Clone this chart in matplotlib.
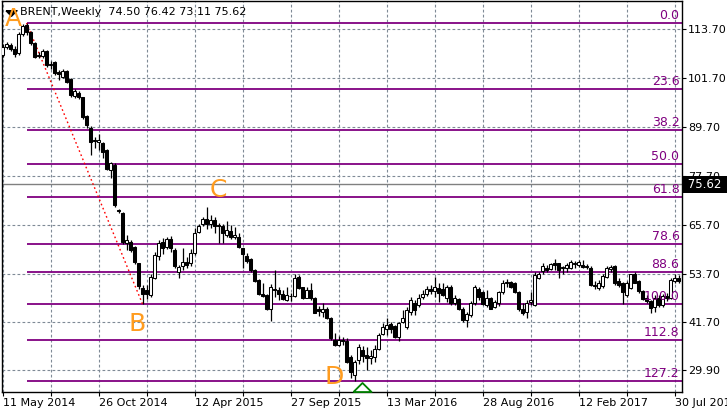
import pandas as pd
import matplotlib
matplotlib.use("Agg")
import matplotlib.pyplot as plt
from matplotlib.transforms import blended_transform_factory

# weekly BRENT candles, first bar = week of 11 May 2014
opens = [107.4, 109.4, 109.8, 109.0, 107.8, 112.5, 114.8, 113.0, 110.4, 107.4,
         107.2, 108.4, 105.0, 105.6, 103.2, 102.1, 103.5, 101.6, 97.3, 98.2,
         97.0, 92.4, 89.4, 86.5, 86.0, 85.7, 84.0, 79.1, 80.4, 69.3,
         68.5, 61.2, 61.5, 60.3, 56.2, 50.1, 49.6, 48.4, 52.5, 58.0,
         61.5, 60.3, 62.3, 59.5, 54.2, 55.5, 56.5, 56.2, 58.7, 64.0,
         65.9, 67.0, 65.8, 66.8, 65.6, 65.4, 63.3, 64.2, 62.6, 62.6,
         59.9, 58.0, 57.2, 54.6, 52.1, 48.7, 48.4, 45.1, 49.9, 49.6,
         48.8, 47.2, 48.3, 48.2, 52.9, 50.3, 47.8, 49.6, 47.8, 44.9,
         44.3, 45.1, 42.9, 37.5, 36.1, 37.5, 37.2, 33.3, 28.9, 32.4,
         35.0, 33.7, 32.9, 33.1, 35.1, 38.8, 40.0, 41.2, 40.8, 38.1,
         41.9, 40.5, 44.3, 46.4, 45.9, 47.9, 48.8, 49.8, 49.5, 50.1,
         49.8, 47.6, 50.5, 46.4, 47.4, 45.1, 42.3, 43.5, 46.4, 50.0,
         49.2, 46.0, 47.6, 45.6, 46.4, 49.1, 51.4, 51.7, 51.3, 49.2,
         45.1, 44.3, 46.6, 46.0, 52.5, 54.3, 55.1, 54.8, 56.2, 56.2,
         55.0, 55.0, 55.1, 56.2, 55.8, 55.8, 55.6, 55.1, 51.0, 50.2,
         50.7, 52.9, 54.8, 55.6, 51.8, 51.3, 48.4, 50.2, 53.5, 51.8,
         49.4, 47.6, 46.9, 45.5, 47.6, 46.0, 48.2, 47.8, 52.0, 52.5]
highs = [110.2, 110.6, 110.4, 109.6, 113.0, 115.0, 115.3, 113.3, 110.6, 108.2,
         108.8, 108.6, 106.0, 106.0, 103.8, 103.9, 103.8, 101.8, 99.0, 98.6,
         97.2, 92.6, 90.0, 87.3, 88.1, 86.1, 84.4, 81.2, 80.8, 69.6,
         68.8, 63.2, 62.0, 60.6, 56.4, 51.0, 51.0, 53.7, 59.0, 61.9,
         62.5, 62.8, 63.0, 60.0, 55.8, 59.9, 57.8, 59.8, 65.0, 66.0,
         67.5, 70.0, 68.1, 67.5, 66.2, 66.0, 66.7, 65.6, 65.2, 63.7,
         60.1, 58.7, 57.5, 54.8, 52.4, 51.4, 48.7, 51.1, 54.6, 50.3,
         49.6, 50.5, 49.0, 53.7, 53.3, 50.5, 50.3, 51.3, 48.0, 45.7,
         46.4, 45.5, 43.1, 39.2, 38.3, 38.0, 37.9, 33.8, 32.5, 36.4,
         35.9, 35.7, 35.0, 36.2, 39.0, 41.5, 42.7, 41.9, 41.0, 41.9,
         44.7, 45.5, 48.0, 47.2, 48.8, 49.6, 50.6, 50.9, 52.9, 51.3,
         51.4, 50.8, 50.9, 48.5, 47.8, 45.5, 44.3, 47.0, 50.9, 50.5,
         49.5, 49.6, 48.0, 47.2, 49.5, 52.1, 52.3, 52.0, 51.6, 49.5,
         46.4, 47.2, 49.2, 54.2, 54.2, 56.2, 55.8, 56.2, 57.4, 56.4,
         55.6, 56.2, 57.0, 56.8, 57.0, 57.0, 56.1, 55.6, 51.8, 52.1,
         53.7, 55.6, 55.8, 55.9, 52.5, 51.7, 51.8, 53.7, 54.2, 52.1,
         49.6, 48.4, 47.2, 48.4, 48.4, 48.6, 49.0, 52.6, 53.6, 53.4]
lows = [107.0, 109.0, 108.4, 107.0, 107.5, 112.2, 112.4, 110.0, 106.6, 106.6,
        106.8, 104.5, 104.0, 102.6, 101.3, 101.8, 100.5, 97.0, 96.8, 96.6,
        91.8, 89.4, 82.8, 84.5, 84.0, 82.0, 79.1, 77.1, 70.0, 68.6,
        61.0, 59.5, 59.0, 56.0, 50.0, 46.2, 47.5, 47.9, 52.3, 57.0,
        58.5, 59.8, 59.0, 55.0, 52.5, 54.5, 55.0, 55.5, 58.2, 63.6,
        65.5, 64.6, 65.0, 63.7, 61.3, 61.3, 62.8, 62.3, 62.1, 60.1,
        55.0, 56.2, 54.2, 51.6, 48.5, 48.0, 44.8, 42.1, 48.0, 47.2,
        47.2, 47.0, 47.0, 47.9, 49.8, 47.4, 47.6, 47.2, 44.0, 43.2,
        43.1, 42.5, 37.5, 35.9, 35.8, 36.2, 31.8, 28.1, 27.4, 31.6,
        32.0, 30.0, 31.5, 32.0, 34.8, 38.6, 38.6, 39.0, 37.8, 37.2,
        41.5, 40.2, 43.5, 43.5, 45.5, 47.4, 48.2, 48.8, 48.0, 46.8,
        48.2, 46.6, 46.0, 46.0, 44.7, 41.8, 40.6, 43.0, 46.0, 47.2,
        45.9, 45.6, 44.9, 45.2, 45.8, 48.6, 50.5, 50.2, 49.0, 44.5,
        43.5, 42.7, 46.0, 45.8, 52.3, 53.5, 54.1, 54.6, 54.6, 52.5,
        53.5, 54.2, 54.8, 55.1, 55.4, 55.0, 54.8, 50.6, 50.0, 49.6,
        50.2, 52.7, 54.2, 50.9, 50.5, 46.2, 48.0, 50.0, 51.3, 49.0,
        47.2, 46.4, 43.9, 44.3, 45.5, 45.6, 47.0, 47.5, 51.3, 51.4]
closes = [109.4, 110.1, 108.8, 107.6, 112.5, 114.6, 113.0, 110.3, 107.0, 107.2,
          108.4, 104.9, 105.2, 103.0, 102.8, 103.5, 100.8, 97.5, 98.6, 97.0,
          92.2, 90.2, 86.1, 86.3, 86.5, 83.6, 79.5, 80.8, 70.5, 69.0,
          61.5, 61.9, 59.5, 56.6, 50.6, 48.8, 48.8, 52.9, 58.2, 61.1,
          60.0, 62.1, 59.9, 55.5, 55.4, 56.5, 55.8, 58.7, 63.7, 65.4,
          67.0, 65.9, 66.9, 65.4, 65.5, 63.6, 64.4, 62.8, 63.2, 60.3,
          58.5, 56.9, 54.6, 51.9, 48.8, 48.2, 45.1, 50.3, 49.7, 48.7,
          47.4, 48.4, 48.1, 52.5, 50.1, 47.6, 49.6, 47.6, 44.1, 44.6,
          45.1, 42.9, 37.8, 36.1, 37.5, 37.2, 32.0, 29.6, 32.0, 35.7,
          33.4, 32.9, 33.4, 35.1, 38.7, 40.5, 41.0, 40.2, 38.0, 41.5,
          42.7, 44.7, 47.2, 44.7, 47.8, 48.8, 49.8, 49.5, 50.3, 49.0,
          48.4, 50.3, 46.4, 47.6, 45.0, 42.3, 43.8, 46.4, 50.5, 48.0,
          46.2, 47.6, 45.1, 46.8, 49.2, 51.3, 51.7, 50.5, 49.2, 45.1,
          43.9, 46.4, 47.2, 53.3, 53.5, 55.6, 54.6, 56.0, 55.8, 54.6,
          55.3, 55.7, 56.6, 56.0, 56.6, 55.4, 55.2, 50.9, 50.7, 51.5,
          53.2, 55.0, 55.4, 51.3, 51.0, 49.2, 51.3, 53.5, 51.5, 49.4,
          47.4, 46.9, 45.3, 47.6, 46.1, 48.2, 47.6, 52.2, 52.5, 52.0]

first_week = "2014-05-11"
price_ticks = [113.70, 101.70, 89.70, 77.70, 65.70, 53.70, 41.70, 29.90]
fib_levels = [0.0, 23.6, 38.2, 50.0, 61.8, 78.6, 88.6, 100.0, 112.8, 127.2]
bar_a, bar_b = 6, 35          # swing high A and swing low B
last_price = 75.62
header = "BRENT,Weekly  74.50 76.42 73.11 75.62"

weeks = pd.date_range(first_week, periods=len(closes), freq="W-SUN")
df = pd.DataFrame({"open": opens, "high": highs, "low": lows, "close": closes}, index=weeks)
idx = range(len(df))

W, H = 727, 411
fig = plt.figure(figsize=(W / 100, H / 100), dpi=100)
ax = fig.add_axes([1.7 / W, 19 / H, 680 / W, 391 / H])
ax.set_xlim(-0.22, len(df) - 0.22)
ax.set_ylim(24.6, 120.7)

grid_color = "#7f8a96"
dash = (0, (2.5, 2))
purple = "#800080"
orange = "#FF9C1F"

# grid
for i in range(0, len(df), 12):
    ax.axvline(i, color=grid_color, lw=0.8, ls=dash, zorder=0)
for p in price_ticks:
    ax.axhline(p, color=grid_color, lw=0.8, ls=dash, zorder=0)

# fibonacci from A to B
a_price = df["high"].iloc[bar_a]
b_price = df["low"].iloc[bar_b]
for lvl in fib_levels:
    y = a_price - (a_price - b_price) * lvl / 100
    ax.hlines(y, bar_a, len(df), color=purple, lw=1.3, zorder=1)
    ax.text(len(df) - 0.8, y + 0.25, f"{lvl:.1f}", color=purple, fontsize=9,
            ha="right", va="bottom", zorder=4)
ax.plot([bar_a, bar_b], [a_price, b_price], color="red", lw=1, ls=(0, (1.2, 2)), zorder=2)

# current price line
ax.axhline(last_price, color="#808080", lw=1, zorder=1)

# candles
up = df["close"] >= df["open"]
ax.vlines(list(idx), df["low"], df["high"], color="black", lw=0.9, zorder=2)
body_lo = df[["open", "close"]].min(axis=1)
body_h = (df["close"] - df["open"]).abs().clip(lower=0.08)
ax.bar(list(idx), body_h, bottom=body_lo, width=0.55,
       color=["white" if u else "black" for u in up], edgecolor="black", lw=0.75, zorder=3)

# wave labels
for txt, (x, y) in zip("ABCD", [(2.6, 116.3), (33.6, 41.3), (53.9, 74.2), (82.9, 28.2)]):
    ax.text(x, y, txt, color=orange, fontsize=18, ha="center", va="center", zorder=5)

# arrow marker near D
ax.plot(89.9, 25.9, marker=[(-2, -1), (2, -1), (0, 1), (-2, -1)], ms=13,
        mfc="white", mec="#008000", mew=1.3, zorder=5, clip_on=False)

# axes
ax.yaxis.tick_right()
ax.set_yticks(price_ticks)
ax.set_yticklabels([f"{p:.2f}" for p in price_ticks])
label_pos = [i for i in idx if i % 24 == 0]
ax.set_xticks(label_pos)
ax.set_xticklabels([f"{weeks[i].day} {weeks[i]:%b %Y}" for i in label_pos], ha="left")
ax.set_xticks([i for i in idx if i % 24 == 12], minor=True)
ax.tick_params(axis="both", labelsize=8, length=3, width=0.8, pad=1.5, colors="black")
ax.tick_params(axis="x", which="minor", length=3, width=0.8)
for s in ax.spines.values():
    s.set_color("black")
    s.set_linewidth(1)

blend = blended_transform_factory(ax.transAxes, ax.transData)
ax.text(1.003, last_price, f" {last_price:.2f}  ", transform=blend, color="white", fontsize=8.5,
        ha="left", va="center", bbox=dict(facecolor="black", edgecolor="none", pad=1.2), zorder=6)

# header
ax.plot(9.5 / 680, 1 - 12 / 391, transform=ax.transAxes, marker=[(-2, 1), (2, 1), (0, -1), (-2, 1)],
        ms=8, color="black", clip_on=False)
fig.text(20 / W, 1 - 12 / H, header, fontsize=8, ha="left", va="center")

fig.savefig("out.png", dpi=100)
